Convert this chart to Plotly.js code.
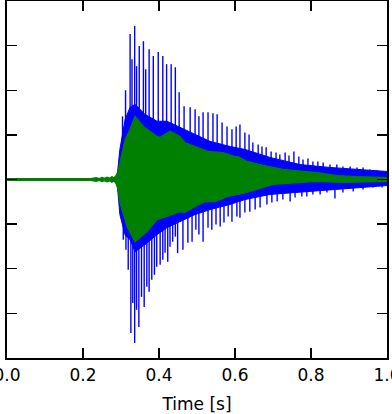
<!DOCTYPE html>
<html>
<head>
<meta charset="utf-8">
<script src="https://cdn.plot.ly/plotly-3.0.1.min.js"></script>
<style>html,body{margin:0;padding:0;background:#fff}#chart{width:392px;height:414px}</style>
</head>
<body>
<div id="chart"></div>
<script>
// Blue signal: upward spike peaks (time s, amplitude)
const spikeUpT = [0.304,0.312,0.324,0.329,0.336,0.341,0.348,0.359,0.365,0.374,0.385,0.398,0.410,0.420,0.432,0.443,0.453,0.466,0.482,0.495,0.505,0.516,0.529,0.542,0.553,0.566,0.579,0.592,0.603,0.613,0.626,0.637,0.647,0.661,0.671,0.682,0.695,0.708,0.718,0.732,0.742,0.755,0.768,0.779,0.792,0.805,0.818,0.832,0.850,0.868,0.884,0.903,0.921,0.937,0.955,0.974,0.989];
const spikeUpV = [0.283,0.40,0.652,0.539,0.688,0.508,0.598,0.620,0.494,0.584,0.553,0.571,0.553,0.517,0.517,0.503,0.391,0.328,0.324,0.315,0.283,0.301,0.301,0.297,0.292,0.256,0.238,0.225,0.238,0.247,0.211,0.202,0.166,0.157,0.148,0.144,0.126,0.121,0.112,0.121,0.108,0.126,0.103,0.090,0.094,0.081,0.081,0.076,0.067,0.067,0.058,0.058,0.054,0.054,0.045,0.040,0.036];
// Blue signal: downward spike troughs
const spikeDnT = [0.306,0.313,0.319,0.326,0.331,0.336,0.341,0.347,0.354,0.361,0.368,0.374,0.381,0.388,0.394,0.403,0.410,0.416,0.423,0.429,0.436,0.443,0.449,0.463,0.476,0.487,0.497,0.505,0.516,0.529,0.539,0.550,0.561,0.571,0.582,0.592,0.605,0.613,0.626,0.639,0.653,0.666,0.684,0.697,0.711,0.726,0.745,0.758,0.776,0.789,0.805,0.824,0.842,0.863,0.884,0.911,0.937,0.963,0.987];
const spikeDnV = [-0.270,-0.315,-0.404,-0.688,-0.553,-0.733,-0.584,-0.661,-0.526,-0.571,-0.481,-0.503,-0.449,-0.427,-0.391,-0.382,-0.360,-0.328,-0.369,-0.301,-0.279,-0.256,-0.330,-0.315,-0.283,-0.279,-0.225,-0.247,-0.279,-0.216,-0.225,-0.202,-0.211,-0.193,-0.166,-0.189,-0.166,-0.171,-0.148,-0.144,-0.135,-0.126,-0.112,-0.103,-0.099,-0.090,-0.099,-0.081,-0.076,-0.076,-0.067,-0.067,-0.058,-0.085,-0.058,-0.054,-0.045,-0.036,-0.036];
// Blue signal: dense body envelope
const bodyT  = [0.289,0.297,0.311,0.324,0.337,0.363,0.395,0.421,0.455,0.495,0.534,0.587,0.626,0.692,0.771,0.850,0.929,1.0];
const bodyUp = [0.0,0.135,0.270,0.324,0.337,0.292,0.261,0.261,0.234,0.202,0.171,0.148,0.135,0.099,0.067,0.054,0.045,0.036];
const bodyDn = [0.0,-0.157,-0.250,-0.270,-0.324,-0.292,-0.247,-0.216,-0.189,-0.157,-0.135,-0.112,-0.090,-0.067,-0.054,-0.045,-0.036,-0.027];
// Green signal: envelope
const greenUpT = [0,0.22,0.235,0.243,0.25,0.257,0.263,0.27,0.276,0.282,0.287,0.293,0.297,0.311,0.324,0.337,0.359,0.395,0.403,0.429,0.455,0.468,0.495,0.529,0.568,0.6,0.608,0.632,0.674,0.726,0.779,0.816,0.868,0.921,1.0];
const greenUpV = [0.004,0.004,0.008,0.004,0.009,0.005,0.011,0.006,0.013,0.007,0.018,0.04,0.076,0.18,0.225,0.283,0.238,0.193,0.189,0.216,0.193,0.166,0.148,0.126,0.121,0.103,0.103,0.081,0.063,0.045,0.036,0.031,0.018,0.013,0.009];
const greenDnT = [0,0.22,0.235,0.243,0.25,0.257,0.263,0.27,0.276,0.282,0.287,0.293,0.297,0.316,0.337,0.368,0.395,0.421,0.455,0.468,0.495,0.521,0.547,0.582,0.626,0.7,0.811,0.884,1.0];
const greenDnV = [-0.004,-0.004,-0.008,-0.004,-0.009,-0.005,-0.011,-0.006,-0.013,-0.007,-0.018,-0.05,-0.103,-0.211,-0.279,-0.234,-0.18,-0.166,-0.144,-0.148,-0.121,-0.099,-0.099,-0.076,-0.06,-0.022,-0.009,-0.013,-0.008];
const xTicks = [0.0,0.2,0.4,0.6,0.8,1.0];
const xTickText = ['0.0','0.2','0.4','0.6','0.8','1.0'];
const yTicks = [-0.8,-0.6,-0.4,-0.2,0,0.2,0.4,0.6,0.8];

const BLUE = '#0000ff', GREEN = '#008000';
function band(tu, vu, td, vd){
  return {x: tu.concat(td.slice().reverse()), y: vu.concat(vd.slice().reverse())};
}
function spikes(t, v){
  const x = [], y = [];
  t.forEach((ti, i) => { x.push(ti, ti, null); y.push(0, v[i], null); });
  return {x, y};
}
const body = band(bodyT, bodyUp, bodyT, bodyDn);
const su = spikes(spikeUpT, spikeUpV);
const sd = spikes(spikeDnT, spikeDnV);
const gb = band(greenUpT, greenUpV, greenDnT, greenDnV);

const traces = [
  {type:'scatter', mode:'lines', x: body.x, y: body.y, fill:'toself', fillcolor: BLUE, line:{color: BLUE, width:1}, hoverinfo:'skip'},
  {type:'scatter', mode:'lines', x: su.x, y: su.y, line:{color: BLUE, width:1.4}, connectgaps:false, hoverinfo:'skip'},
  {type:'scatter', mode:'lines', x: sd.x, y: sd.y, line:{color: BLUE, width:1.4}, connectgaps:false, hoverinfo:'skip'},
  {type:'scatter', mode:'lines', x: gb.x, y: gb.y, fill:'toself', fillcolor: GREEN, line:{color: GREEN, width:1.2}, hoverinfo:'skip'}
];

const layout = {
  width: 392, height: 414,
  margin: {l: 7, r: 5, t: 1, b: 56},
  paper_bgcolor: '#fff', plot_bgcolor: '#fff',
  showlegend: false,
  font: {family: 'DejaVu Sans', color: '#000'},
  xaxis: {
    range: [0, 1], tickvals: xTicks, ticktext: xTickText,
    ticks: 'inside', ticklen: 10, tickwidth: 1.3, tickcolor: '#000',
    showline: true, linecolor: '#000', linewidth: 1.6, mirror: 'ticks',
    showgrid: false, zeroline: false,
    ticklabeloverflow: 'allow', ticklabelstandoff: 1,
    tickfont: {family: 'DejaVu Sans', size: 17, color: '#000'},
    title: {text: 'Time [s]', font: {family: 'DejaVu Sans', size: 17, color: '#000'}, standoff: 14}
  },
  yaxis: {
    range: [-0.8, 0.8], tickvals: yTicks,
    ticks: 'inside', ticklen: 10, tickwidth: 1.3, tickcolor: '#000',
    showline: true, linecolor: '#000', linewidth: 1.6, mirror: 'ticks',
    showgrid: false, zeroline: false, showticklabels: false
  }
};
Plotly.newPlot('chart', traces, layout, {staticPlot: true, displayModeBar: false});
</script>
</body>
</html>
